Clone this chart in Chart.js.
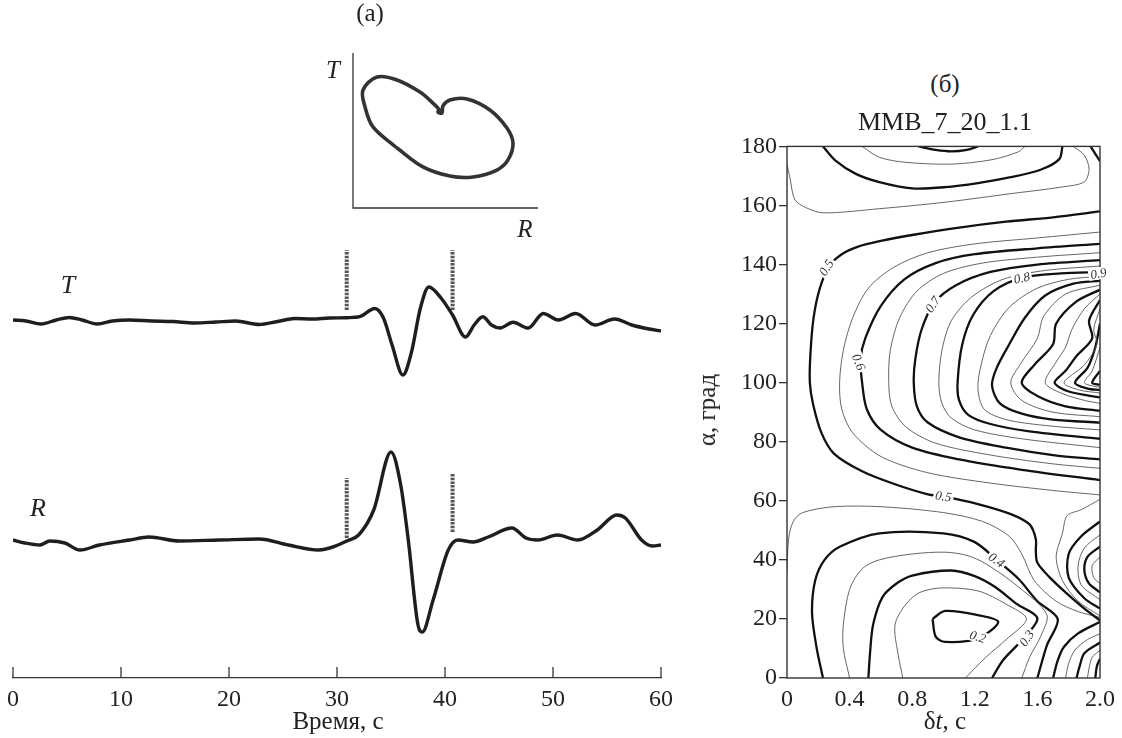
<!DOCTYPE html>
<html>
<head>
<meta charset="utf-8">
<script src="https://cdn.jsdelivr.net/npm/chart.js@4.4.1/dist/chart.umd.min.js"></script>
<style>
  body { margin: 0; background: #fff; width: 1122px; height: 738px; overflow: hidden; position: relative;
         font-family: "Liberation Serif", "DejaVu Serif", serif; color: #222; }
  canvas { position: absolute; }
  .lbl { position: absolute; font-size: 25px; white-space: nowrap; transform: translate(-50%, -50%); }
  .it { font-style: italic; }
</style>
</head>
<body>
<canvas id="wave" style="left:0;top:230px" width="680" height="508"></canvas>
<canvas id="hodo" style="left:320px;top:40px" width="240" height="200"></canvas>
<canvas id="cont" style="left:690px;top:130px" width="432" height="608"></canvas>

<div class="lbl" style="left:370px;top:13px">(а)</div>
<div class="lbl it" style="left:333px;top:70px">T</div>
<div class="lbl it" style="left:525px;top:229px">R</div>
<div class="lbl it" style="left:68px;top:285px;font-size:26px">T</div>
<div class="lbl it" style="left:38px;top:508px;font-size:26px">R</div>
<div class="lbl" style="left:338px;top:721px">Время, с</div>

<div class="lbl" style="left:945px;top:84px">(б)</div>
<div class="lbl" style="left:945px;top:122px;font-size:26px">MMB_7_20_1.1</div>
<div class="lbl" style="left:945px;top:721px">δ<span class="it">t</span>, с</div>
<div class="lbl" style="left:707px;top:410px;transform:translate(-50%,-50%) rotate(-90deg)">α, град</div>

<script>
// ---- (a) seismograms, amplitude in arbitrary units (positive = up)
const timeTicks = [0, 10, 20, 30, 40, 50, 60];

const tTime = [0, 1.2, 2.6, 4.0, 5.2, 6.4, 7.8, 9.2, 10.8, 12.8, 14.8, 16.8, 18.8, 20.6, 22.8, 24.5, 26.1, 27.7, 29.3, 30.9,
  32.1, 33.5, 34.3, 35.1, 36.1, 36.9, 37.7, 38.5, 39.7, 40.7, 41.9, 42.7, 43.5, 44.3, 45.1, 46.3, 47.7, 49.1, 50.5, 52.1,
  53.9, 55.7, 57.3, 58.9, 60];
const tAmp = [0, -1, -4, 0, 2.5, 0, -4, -1, 0, -1, -1.5, -3, -2, -1, -4.5, -1.5, 1.5, 1, 2, 2.3,
  3.3, 11.5, 2, -25, -55, -32, 11, 33, 21, 5, -17, -5, 3.3, -5, -8, -2.3, -8, 6.5, 0, 6.5,
  -5, 1, -5, -9, -11];

const rTime = [0, 1.1, 2.5, 3.4, 4.8, 6.2, 8.0, 10.8, 12.6, 15.4, 19.1, 22.8, 25.5, 28.3, 30.1, 30.9, 32.0, 33.4, 35.0, 35.9,
  36.6, 37.5, 37.9, 38.9, 40.3, 41.2, 42.6, 44.0, 46.2, 47.5, 48.6, 50.4, 52.3, 54.1, 55.9, 56.7, 58.2, 59.2, 60];
const rAmp = [0, -3, -5, -1, -3, -10, -5, 0, 3, -1, 0, 1, -5, -10, -5, -1, 5, 30, 88, 55,
  0, -85, -92, -60, -10, 0, -2, 3, 12, 2, 0, 5, 0, 10, 25, 22, 0, -6, -5];

// time window marks
const markTimes = [30.9, 40.7];
const tMarkSpans = [[10, 70], [10, 70]];
const rMarkSpans = [[2, 62], [8, 67]];

const T_OFFSET = 358, R_OFFSET = 138;

// ---- inset: particle motion, R horizontal, T vertical
const hodoR = [23.8, 10.8, 6.5, 5.4, 13, 23.8, 36.2, 43.2, 46.5, 45.9, 48.1, 48.6, 52.4, 61.6, 74, 83.2, 86.5, 83.8, 77.8, 64.9, 52.4, 37.8, 23.8];
const hodoT = [38.7, 52.3, 65.2, 76.1, 84.5, 82.6, 74.8, 67.7, 63.5, 61.9, 61.3, 65.8, 69.7, 70.3, 63.2, 51.6, 41.9, 31, 24.5, 20, 20.6, 26.5, 38.7];

// ---- (б) contour lines, points are [δt, α]
const dtTicks = [0, 0.4, 0.8, 1.2, 1.6, 2.0];
const alphaTicks = [0, 20, 40, 60, 80, 100, 120, 140, 160, 180];

const cTop30 = [[0.84,180],[0.95,178.8],[1.05,178.3],[1.15,178.8],[1.22,180]];
const cTop35 = [[0.48,180],[0.59,176.3],[0.76,174.6],[1.05,174],[1.31,175.5],[1.48,178.2],[1.52,180]];
const cTop40 = [[0.23,180],[0.31,175.2],[0.44,170.7],[0.59,167.9],[0.8,165.8],[1.01,166.2],[1.22,167.6],[1.43,169.6],[1.62,172.1],[1.74,175.7],[1.76,180]];
const cTop45 = [[0,174],[0.02,169],[0.05,162],[0.12,159.3],[0.23,157.5],[0.59,158.9],[1.01,161.1],[1.43,164],[1.75,166.2],[1.9,168],[1.93,172.4],[1.9,177],[1.83,180]];
const cCorner = [[1.94,180],[2.0,175]];

const c50 = [[2.0,158],[1.7,156],[1.4,154.5],[1.1,152.5],[0.8,150],[0.6,148],[0.45,146],[0.35,143.5],[0.27,139.5],[0.21,132],
  [0.17,122],[0.15,110],[0.146,100],[0.167,92.6],[0.22,83],[0.3,76],[0.48,70],[0.69,65.6],[0.9,62.2],[1.0,61.5],[1.22,58.9],
  [1.43,55.5],[1.55,52],[1.59,47],[1.59,43],[1.6,39],[1.68,34],[1.78,29],[1.9,23.5],[2.0,19.5]];
const c55 = [[2.0,151],[1.6,149],[1.2,147],[0.9,144],[0.68,139],[0.52,132],[0.42,122],[0.36,111],[0.336,100],[0.35,91],[0.42,83],[0.6,75],[0.9,69.5],[1.3,66],[1.7,63.5],[2.0,62]];
const c60 = [[2.0,147],[1.6,145.5],[1.2,143.5],[0.95,140.5],[0.75,135],[0.6,126],[0.5,115],[0.47,108],[0.48,100],[0.51,91],[0.6,84],[0.8,78],[1.1,74],[1.5,70.5],[2.0,67]];
const c65 = [[2.0,144],[1.6,142.5],[1.25,140.5],[1.0,137],[0.83,131],[0.72,122],[0.66,111],[0.65,100],[0.67,92],[0.76,85],[0.95,79.5],[1.3,75.5],[1.7,72.5],[2.0,71]];
const c70 = [[2.0,141.5],[1.6,140],[1.3,137.5],[1.08,133],[0.94,127],[0.86,118],[0.82,108],[0.81,100],[0.83,92],[0.9,86.5],[1.1,81.5],[1.4,78],[1.7,75.5],[2.0,74]];
const c75 = [[2.0,139.5],[1.65,138],[1.38,135],[1.18,129],[1.05,121],[0.99,111],[0.97,100],[0.99,93],[1.05,88],[1.2,84],[1.5,81],[2.0,78]];
const c80 = [[2.0,137.5],[1.75,137],[1.5,135.5],[1.32,131],[1.19,123],[1.12,113],[1.09,100],[1.1,94],[1.16,89],[1.3,86],[1.55,83.5],[2.0,81]];
const c85 = [[2.0,136],[1.8,135],[1.6,132],[1.42,125.5],[1.3,116],[1.24,106],[1.22,98],[1.26,91],[1.4,87.5],[1.65,85.5],[2.0,84]];
const c90 = [[2.0,134.5],[1.83,133.5],[1.65,129.5],[1.52,122],[1.42,113],[1.34,105],[1.31,99],[1.36,93],[1.5,89.5],[1.7,87.5],[2.0,86.5]];
const c95 = [[2.0,133],[1.78,130],[1.64,122.5],[1.6,115],[1.5,107],[1.43,100],[1.5,94],[1.7,90],[2.0,88.5]];
const c100 = [[2.0,131.5],[1.85,127.5],[1.72,120],[1.7,113],[1.58,106],[1.5,100],[1.6,95.5],[1.78,92],[2.0,90.5]];
const c105 = [[2.0,130],[1.9,125],[1.82,118],[1.78,112],[1.72,107],[1.65,100],[1.75,96.5],[1.9,94],[2.0,93]];
const c110 = [[2.0,128],[1.93,121],[1.95,115],[1.85,109],[1.78,104],[1.71,100],[1.8,97],[2.0,95]];
const c115 = [[2.0,125],[1.96,118],[1.98,113],[1.9,106],[1.77,100],[1.87,97.5],[2.0,96.5]];
const c120 = [[2.0,120],[1.97,112],[1.92,105],[1.84,100],[1.92,98],[2.0,97.5]];
const c125 = [[2.0,112],[1.95,104],[1.9,100],[1.96,98.8],[2.0,98.5]];
const c130 = [[2.0,104],[1.95,100],[2.0,99.3]];

const c20 = [[0.93,20],[0.95,14],[1.01,12.2],[1.22,13.4],[1.35,19],[1.22,21.3],[1.01,22.7],[0.93,20]];
const c25 = [[0.74,0],[0.71,8],[0.69,18],[0.76,25],[0.85,29],[0.99,30.5],[1.22,29.5],[1.4,25],[1.53,20],[1.4,13],[1.27,7],[1.14,0]];
const c30 = [[0.52,0],[0.53,8],[0.55,18],[0.61,27.4],[0.7,32],[0.8,34.7],[1.05,36.4],[1.2,34.5],[1.33,30.8],[1.47,25],[1.6,20.1],[1.48,11.7],[1.38,6],[1.31,0]];
const c35 = [[0.4,0],[0.36,10],[0.36,18],[0.4,30],[0.48,37],[0.59,40],[0.8,42],[1.01,42.6],[1.15,41.5],[1.27,38.7],[1.48,30.8],[1.66,21.5],[1.62,14],[1.55,7],[1.5,0]];
const c40 = [[0.23,0],[0.19,10],[0.16,22],[0.18,33],[0.24,40],[0.34,44.5],[0.59,49],[1.0,49],[1.2,46],[1.35,39.5],[1.48,33.5],[1.6,26],[1.73,20],[1.66,11],[1.6,0]];
const c45 = [[0,36],[0.01,47],[0.04,53],[0.1,56],[0.3,58],[0.6,58],[1.0,56],[1.25,53],[1.42,48],[1.5,42],[1.58,33],[1.72,26],[1.86,22.5],[2.0,20.5]];

const lobe1 = [[2.0,60.5],[1.88,57],[1.79,55],[1.76,49],[1.72,41],[1.76,33],[1.86,26],[2.0,21]];
const lobe2 = [[2.0,53],[1.88,48],[1.8,42],[1.8,34],[1.9,27],[2.0,23.5]];
const lobe3 = [[2.0,48.5],[1.9,44],[1.86,38],[1.88,31.5],[2.0,26.5]];
const lobe4 = [[2.0,44.5],[1.92,41],[1.9,36.5],[1.93,32],[2.0,29]];
const lobe5 = [[2.0,41],[1.95,38],[1.96,34],[2.0,32]];

const br1 = [[1.7,0],[1.73,6],[1.77,10.6],[1.86,15.1],[2.0,19]];
const br2 = [[1.78,0],[1.8,5],[1.84,9.5],[1.92,13],[2.0,15]];
const br3 = [[1.85,0],[1.87,4],[1.9,8.4],[2.0,12]];
const br4 = [[1.92,0],[1.93,3.3],[1.95,7],[2.0,9.4]];
const br5 = [[1.97,0],[1.98,4],[2.0,6.5]];

const contourLabels = ['0.5', '0.6', '0.7', '0.8', '0.9', '0.5', '0.4', '0.2', '0.3'];
const labelAt = [[0.25,139],[0.46,107],[0.93,126.5],[1.5,135.5],[1.99,137],[1.0,61.6],[1.34,40],[1.22,14],[1.53,13.5]];
const labelRot = [-57, 68, -55, -12, -10, 8, 35, 18, -55];

// line weight per contour: true = thick (labelled levels)
const contours = [
  [cTop30, true], [cTop35, false], [cTop40, true], [cTop45, false], [cCorner, true],
  [c50, true], [c55, false], [c60, true], [c65, false], [c70, true], [c75, false], [c80, true],
  [c85, false], [c90, true], [c95, false], [c100, true], [c105, false], [c110, true], [c115, false],
  [c120, true], [c125, false], [c130, true],
  [c20, true], [c25, false], [c30, true], [c35, false], [c40, true], [c45, false],
  [lobe1, false], [lobe2, true], [lobe3, false], [lobe4, true], [lobe5, false],
  [br1, true], [br2, false], [br3, true], [br4, false], [br5, true]
];

const SERIF = '"Liberation Serif", "DejaVu Serif", serif';
const INK = '#1e1e1e';

function pairs(xs, ys, off) {
  return xs.map((x, i) => ({ x: x, y: ys[i] + off }));
}

// ticks drawn upward from the time axis
const upTicks = {
  id: 'upTicks',
  afterDraw(chart) {
    const { ctx, scales: { x }, chartArea } = chart;
    ctx.save();
    ctx.strokeStyle = '#333';
    ctx.lineWidth = 1.3;
    timeTicks.forEach(v => {
      const px = x.getPixelForValue(v);
      ctx.beginPath();
      ctx.moveTo(px, chartArea.bottom);
      ctx.lineTo(px, chartArea.bottom - 11);
      ctx.stroke();
    });
    ctx.restore();
  }
};

const markSets = [];
markTimes.forEach((t, i) => {
  markSets.push({ data: [{ x: t, y: T_OFFSET + tMarkSpans[i][0] }, { x: t, y: T_OFFSET + tMarkSpans[i][1] }] });
  markSets.push({ data: [{ x: t, y: R_OFFSET + rMarkSpans[i][0] }, { x: t, y: R_OFFSET + rMarkSpans[i][1] }] });
});

new Chart(document.getElementById('wave'), {
  type: 'scatter',
  data: {
    datasets: [
      { label: 'T', data: pairs(tTime, tAmp, T_OFFSET), showLine: true, borderColor: INK, borderWidth: 3.4,
        pointRadius: 0, cubicInterpolationMode: 'monotone' },
      { label: 'R', data: pairs(rTime, rAmp, R_OFFSET), showLine: true, borderColor: INK, borderWidth: 3.4,
        pointRadius: 0, cubicInterpolationMode: 'monotone' },
      ...markSets.map(m => ({ data: m.data, showLine: true, borderColor: '#555', borderWidth: 4,
        borderDash: [2.5, 1.2], pointRadius: 0 }))
    ]
  },
  options: {
    responsive: false,
    animation: false,
    devicePixelRatio: 1,
    layout: { padding: { left: 13, right: 16, top: 0, bottom: 0 } },
    plugins: { legend: { display: false }, tooltip: { enabled: false } },
    scales: {
      x: {
        type: 'linear', min: 0, max: 60,
        afterBuildTicks: s => { s.ticks = timeTicks.map(v => ({ value: v })); },
        afterFit: s => { s.height = 60; },
        grid: { display: false, drawTicks: false },
        border: { display: true, color: '#333', width: 1.3 },
        ticks: { padding: 7, color: '#222', font: { family: SERIF, size: 24 } }
      },
      y: { display: false, min: 0, max: 448 }
    }
  },
  plugins: [upTicks]
});

// inset axes: only left and bottom lines
const lAxes = {
  id: 'lAxes',
  beforeDatasetsDraw(chart) {
    const { ctx, chartArea: a } = chart;
    ctx.save();
    ctx.strokeStyle = '#333';
    ctx.lineWidth = 1.3;
    ctx.beginPath();
    ctx.moveTo(a.left, a.top);
    ctx.lineTo(a.left, a.bottom);
    ctx.lineTo(a.right, a.bottom);
    ctx.stroke();
    ctx.restore();
  }
};

new Chart(document.getElementById('hodo'), {
  type: 'scatter',
  data: {
    datasets: [{ data: pairs(hodoR, hodoT, 0), showLine: true, borderColor: '#333', borderWidth: 3.6,
      pointRadius: 0, tension: 0.35 }]
  },
  options: {
    responsive: false,
    animation: false,
    devicePixelRatio: 1,
    layout: { padding: { left: 33, right: 22, top: 13, bottom: 32 } },
    plugins: { legend: { display: false }, tooltip: { enabled: false } },
    scales: {
      x: { display: false, min: 0, max: 100 },
      y: { display: false, min: 0, max: 100 }
    }
  },
  plugins: [lAxes]
});

// frame round the contour plot and in-line level labels
const frame = {
  id: 'frame',
  afterDraw(chart) {
    const { ctx, chartArea: a, scales: { x, y } } = chart;
    ctx.save();
    ctx.strokeStyle = '#333';
    ctx.lineWidth = 1.4;
    ctx.strokeRect(a.left, a.top, a.right - a.left, a.bottom - a.top);
    ctx.font = 'italic 13px ' + SERIF;
    ctx.textAlign = 'center';
    ctx.textBaseline = 'middle';
    contourLabels.forEach((txt, i) => {
      const px = x.getPixelForValue(labelAt[i][0]);
      const py = y.getPixelForValue(labelAt[i][1]);
      ctx.save();
      ctx.translate(px, py);
      ctx.rotate(labelRot[i] * Math.PI / 180);
      const w = ctx.measureText(txt).width + 4;
      ctx.fillStyle = '#fff';
      ctx.fillRect(-w / 2, -6, w, 12);
      ctx.fillStyle = '#333';
      ctx.fillText(txt, 0, 1);
      ctx.restore();
    });
    ctx.restore();
  }
};

new Chart(document.getElementById('cont'), {
  type: 'scatter',
  data: {
    datasets: contours.map(([pts, thick]) => ({
      data: pts.map(p => ({ x: p[0], y: p[1] })),
      showLine: true,
      pointRadius: 0,
      borderColor: thick ? '#111' : '#555',
      borderWidth: thick ? 2.3 : 0.9,
      tension: 0.3
    }))
  },
  options: {
    responsive: false,
    animation: false,
    devicePixelRatio: 1,
    layout: { padding: { left: 0, right: 19, top: 15, bottom: 0 } },
    plugins: { legend: { display: false }, tooltip: { enabled: false } },
    scales: {
      x: {
        type: 'linear', min: 0, max: 2,
        afterBuildTicks: s => { s.ticks = dtTicks.map(v => ({ value: v })); },
        afterFit: s => { s.height = 60; },
        grid: { display: false, drawTicks: false },
        border: { display: false },
        ticks: { padding: 7, color: '#222', font: { family: SERIF, size: 24 },
          callback: v => (v === 0 ? '0' : v.toFixed(1)) }
      },
      y: {
        type: 'linear', min: 0, max: 180,
        afterBuildTicks: s => { s.ticks = alphaTicks.map(v => ({ value: v })); },
        afterFit: s => { s.width = 97; },
        grid: { drawOnChartArea: false, drawTicks: true, tickLength: 8, color: '#333', lineWidth: 1.3 },
        border: { display: false },
        ticks: { padding: 2, color: '#222', font: { family: SERIF, size: 24 } }
      }
    }
  },
  plugins: [frame]
});
</script>
</body>
</html>
